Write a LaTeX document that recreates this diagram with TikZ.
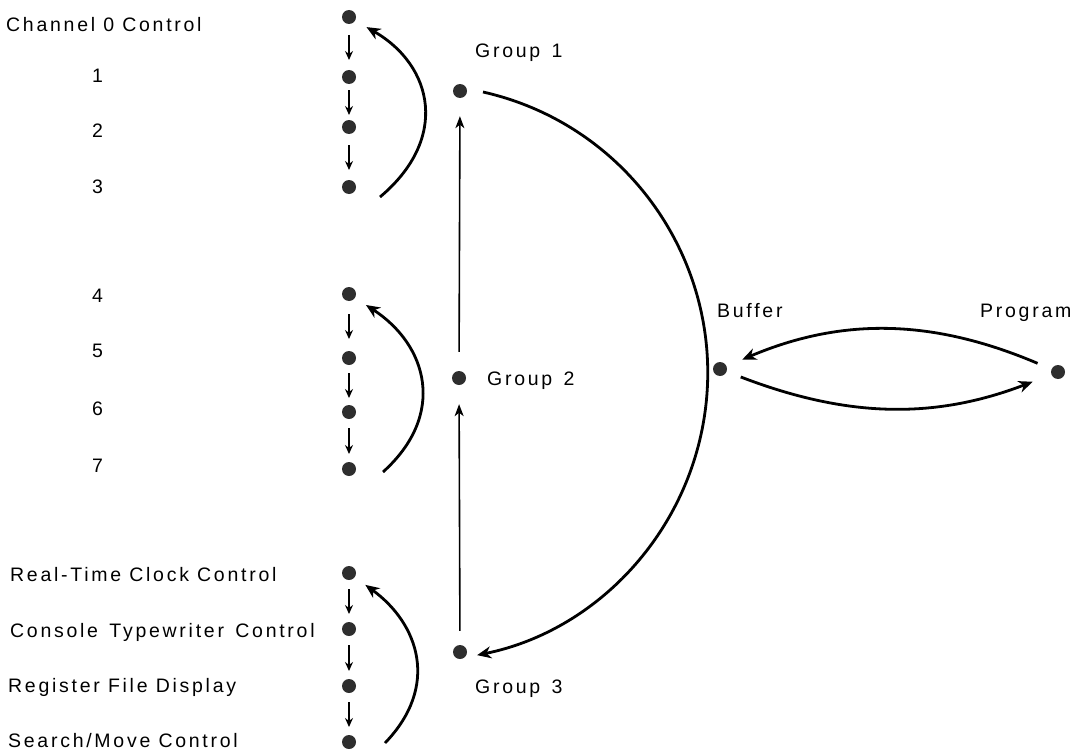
\documentclass[tikz,border=0pt]{standalone}
\usepackage{fontspec}
\setmainfont{Liberation Sans}[LetterSpace=14]
\usetikzlibrary{arrows.meta,calc}
\tikzset{
  dot/.style={circle,fill=black!82,minimum size=14pt,inner sep=0pt},
  lbl/.style={anchor=base west,inner sep=0pt,font=\fontsize{19.5}{23}\selectfont},
  smallarr/.style={line width=1.7pt,-{Stealth[length=9pt,width=8pt,inset=3pt]}},
  looparr/.style={line width=2.8pt,-{Stealth[length=14pt,width=12pt,inset=4.5pt]},shorten >=13pt},
  vline/.style={line width=1.6pt,-{Stealth[length=12pt,width=9pt,inset=3.5pt]}},
  bigarc/.style={line width=2.8pt,-{Stealth[length=14pt,width=12pt,inset=4.5pt]}},
  bparc/.style={line width=2.8pt,-{Stealth[length=14pt,width=12pt,inset=4.5pt]}}
}
\begin{document}
\begin{tikzpicture}[x=1pt,y=1pt]
\useasboundingbox (0,0) rectangle (1073,-752);
% dots
\node[dot] (c0) at (349,-17) {};
\node[dot] (c1) at (349,-77) {};
\node[dot] (c2) at (349,-127) {};
\node[dot] (c3) at (349,-187) {};
\node[dot] (c4) at (349,-294) {};
\node[dot] (c5) at (349,-358) {};
\node[dot] (c6) at (349,-412) {};
\node[dot] (c7) at (349,-469) {};
\node[dot] (c8) at (349,-573) {};
\node[dot] (c9) at (349,-629) {};
\node[dot] (c10) at (349,-686) {};
\node[dot] (c11) at (349,-742) {};
\node[dot] (g1) at (460,-91) {};
\node[dot] (g2) at (459,-378) {};
\node[dot] (g3) at (460,-652) {};
\node[dot] (buf) at (720,-369) {};
\node[dot] (prog) at (1058,-372) {};
% labels
\node[lbl] (t0) at (6,-32) {Channel 0 Control};
\node[lbl] (t1) at (92,-82) {1};
\node[lbl] (t2) at (92,-137) {2};
\node[lbl] (t3) at (92,-193) {3};
\node[lbl] (t4) at (92,-302) {4};
\node[lbl] (t5) at (92,-357) {5};
\node[lbl] (t6) at (92,-415) {6};
\node[lbl] (t7) at (92,-472) {7};
\node[lbl] (t8) at (10,-581) {Real-Time Clock Control};
\node[lbl] (t9) at (10,-637) {Console\, Typewriter\, Control};
\node[lbl] (t10) at (8,-692) {Register File Display};
\node[lbl] (t11) at (8,-747) {Search/Move Control};
\node[lbl] (tg1) at (475,-57) {Group\, 1};
\node[lbl] (tg2) at (487,-385) {Group\, 2};
\node[lbl] (tg3) at (475,-693) {Group\, 3};
\node[lbl] (tb) at (717,-317) {Buffer};
\node[lbl] (tp) at (980,-317) {Program};
% small down arrows
\draw[smallarr,shorten <=18pt,shorten >=17pt] (c0.center) -- (c1.center);
\draw[smallarr,shorten <=13pt,shorten >=12pt] (c1.center) -- (c2.center);
\draw[smallarr,shorten <=18pt,shorten >=17pt] (c2.center) -- (c3.center);
\draw[smallarr,shorten <=20pt,shorten >=19pt] (c4.center) -- (c5.center);
\draw[smallarr,shorten <=15pt,shorten >=14pt] (c5.center) -- (c6.center);
\draw[smallarr,shorten <=16pt,shorten >=15pt] (c6.center) -- (c7.center);
\draw[smallarr,shorten <=16pt,shorten >=15pt] (c8.center) -- (c9.center);
\draw[smallarr,shorten <=16pt,shorten >=15pt] (c9.center) -- (c10.center);
\draw[smallarr,shorten <=16pt,shorten >=15pt] (c10.center) -- (c11.center);
% loop arcs
\coordinate (a0) at (380,-197);
\coordinate (a1) at (383,-472);
\coordinate (a2) at (385,-743);
\draw[looparr] (a0) to[out=40,in=-30,looseness=1.3] (c0);
\draw[looparr] (a1) to[out=42,in=-33,looseness=1.25] (c4);
\draw[looparr] (a2) to[out=46,in=-36,looseness=1.2] (c8);
% vertical arrows
\draw[vline,shorten <=19pt,shorten >=18pt] (g2) -- (g1);
\draw[vline,shorten <=14pt,shorten >=19pt] (g3) -- (g2);
% big arc group 1 -> group 3
\coordinate (ga) at (483,-92);
\draw[bigarc] (ga) arc[start angle=77.3,end angle=-78.5,radius=288];
% buffer <-> program
\draw[bparc,shorten <=15pt,shorten >=17pt] (prog) to[out=157,in=23] (buf);
\draw[bparc,shorten <=15pt,shorten >=20pt] (buf) to[out=-21,in=-159] (prog);
\end{tikzpicture}
\end{document}
